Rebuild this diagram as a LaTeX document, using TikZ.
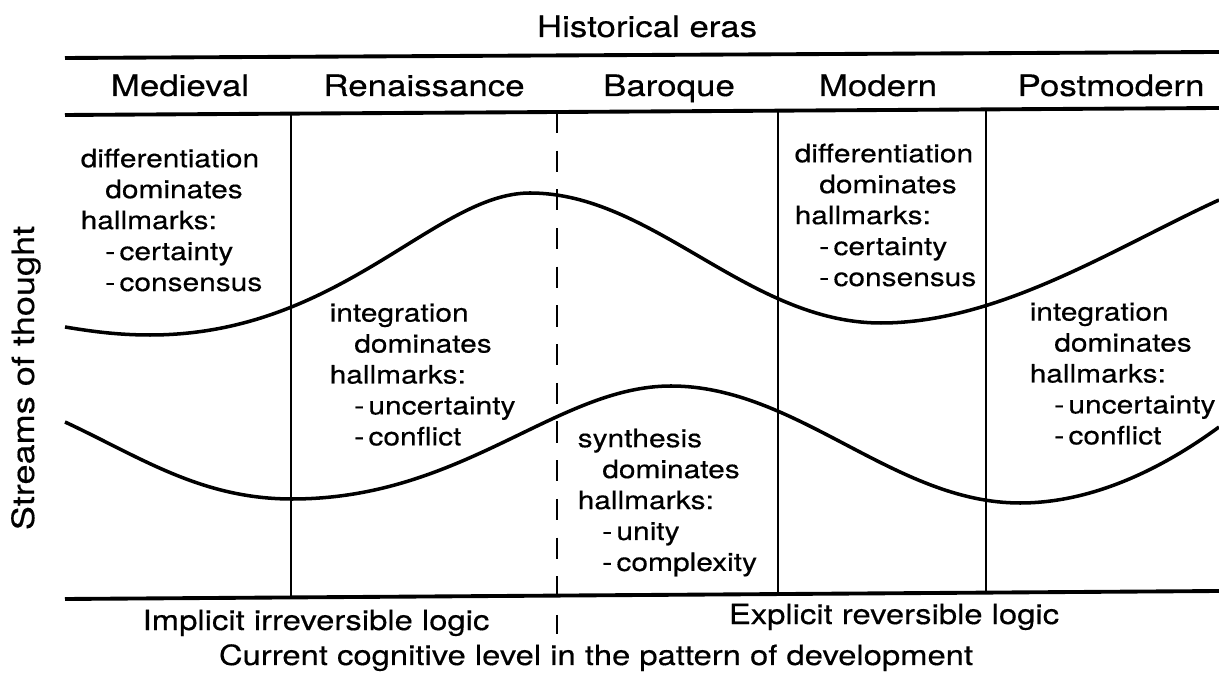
\documentclass[tikz,border=0pt]{standalone}
\usepackage{fontspec}
\setmainfont{TeX Gyre Heros}[FakeStretch=1.18, FakeBold=0.4]
\usepackage{tikz}

\tikzset{
  era/.style={anchor=base, inner sep=0pt, font=\fontsize{8.4}{10}\selectfont},
  logic/.style={anchor=base, inner sep=0pt, font=\fontsize{7.9}{9}\selectfont},
  blurb/.style={anchor=north west, align=left, inner sep=0pt,
                font=\fontsize{7.2}{8.8}\selectfont},
  rule/.style={line width=1.1pt},
  divider/.style={line width=0.65pt},
  stream/.style={line width=1pt, line join=round}
}

\begin{document}
\begin{tikzpicture}[x=0.01cm, y=-0.01cm]
\useasboundingbox (0,0) rectangle (1219,674);

%========================
% Frame
%========================

% horizontal rules
\draw[rule] (65,58) -- (1219,52);
\draw[rule] (65,115) -- (1219,108);
\draw[rule] (65,599) -- (1219,591);

% era dividers
\foreach \x/\ytop/\ybot in {291/113.6/597.4, 778/110.7/594.1, 986/109.4/592.6}
{
    \draw[divider] (\x,\ytop) -- (\x,\ybot);
}

% logic divider
\draw[divider, dash pattern=on 6pt off 5pt] (557,112) -- (557,634);

%========================
% Headings
%========================

\node[era] (eras) at (647,37) {Historical eras};

\foreach \x/\name in {180/Medieval, 424/Renaissance, 669/Baroque, 878/Modern, 1111/Postmodern}
{
    \node[era] (\name) at (\x,96) {\name};
}

\node[era, font=\fontsize{8.7}{10}\selectfont, rotate=90] (streams) at (34,378) {Streams of thought};

%========================
% Streams
%========================

% upper stream
\draw[stream] (65,327) .. controls (95,332) and (120,335) .. (150,335)
    .. controls (340,335) and (435,193) .. (530,193)
    .. controls (653,193) and (748,323) .. (881,323)
    .. controls (1000,323) and (1118,246) .. (1219,200);

% lower stream
\draw[stream] (65,422) .. controls (140,457) and (201,499) .. (292,499)
    .. controls (463,499) and (557,386) .. (671,386)
    .. controls (797,386) and (894,503) .. (1020,503)
    .. controls (1090,503) and (1159,471) .. (1219,427);

%========================
% Hallmarks
%========================

\node[blurb] (diffA) at (80,148) {differentiation\\\hspace*{7pt}dominates\\hallmarks:\\\hspace*{7pt}-\,certainty\\\hspace*{7pt}-\,consensus};

\node[blurb] (integA) at (329,303) {integration\\\hspace*{7pt}dominates\\hallmarks:\\\hspace*{7pt}-\,uncertainty\\\hspace*{7pt}-\,conflict};

\node[blurb] (synth) at (577,428) {synthesis\\\hspace*{7pt}dominates\\hallmarks:\\\hspace*{7pt}-\,unity\\\hspace*{7pt}-\,complexity};

\node[blurb] (diffB) at (794,143) {differentiation\\\hspace*{7pt}dominates\\hallmarks:\\\hspace*{7pt}-\,certainty\\\hspace*{7pt}-\,consensus};

\node[blurb] (integB) at (1029,302) {integration\\\hspace*{7pt}dominates\\hallmarks:\\\hspace*{7pt}-\,uncertainty\\\hspace*{7pt}-\,conflict};

%========================
% Logic levels
%========================

\node[logic] (implicit) at (316,630) {Implicit irreversible logic};
\node[logic] (explicit) at (894,624) {Explicit reversible logic};
\node[logic] (level) at (596,665) {Current cognitive level in the pattern of development};
\end{tikzpicture}
\end{document}
